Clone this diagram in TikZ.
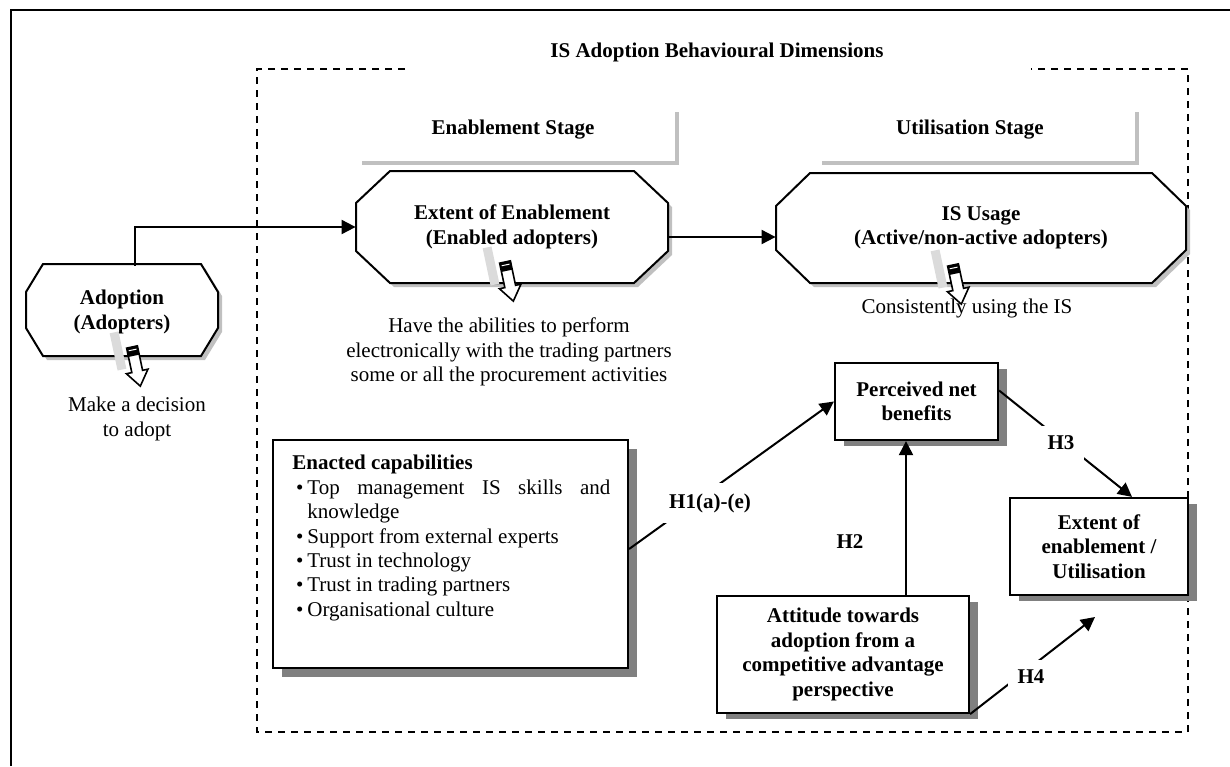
\documentclass[tikz,border=0pt]{standalone}
\usepackage{fontspec}
\setmainfont{Liberation Serif}
\usetikzlibrary{arrows.meta,shadows}
\definecolor{boxshade}{RGB}{128,128,128}
\definecolor{stageshade}{RGB}{192,192,192}
\newcommand{\figfont}{\fontsize{10.5}{12.2}\selectfont}
\tikzset{
  octnode/.style={inner sep=0pt,font=\figfont\bfseries,align=center},
  octline/.style={draw,line width=1pt,fill=white},
  octshade/.style={fill=stageshade},
  hbox/.style={draw,line width=1.1pt,fill=white,font=\figfont\bfseries,align=center,inner sep=0pt,
    drop shadow={shadow xshift=4.5pt,shadow yshift=#1,fill=boxshade,opacity=1}},
  hbox/.default=-3pt,
  note/.style={font=\figfont,align=center,inner sep=1pt},
  stagelbl/.style={font=\figfont\bfseries,inner sep=1pt},
  stagebar/.style={draw=stageshade,line width=2.2pt},
  link/.style={draw,line width=1pt,-{Triangle[length=7pt,width=7pt]}},
  hlabel/.style={font=\figfont\bfseries,fill=white,inner sep=5pt},
  frame/.style={line width=1pt},
  dimframe/.style={line width=0.7pt,dash pattern=on 3.5pt off 3pt},
}
% octagon: x1,y1,x2,y2,xcut,ycut
\newcommand{\octa}[6]{%
  \fill[octshade] (#1+#5+4,#2+4) -- (#3-#5+4,#2+4) -- (#3+4,#2+#6+4) -- (#3+4,#4-#6+4) -- (#3-#5+4,#4+4) -- (#1+#5+4,#4+4) -- (#1+4,#4-#6+4) -- (#1+4,#2+#6+4) -- cycle;
  \filldraw[octline] (#1+#5,#2) -- (#3-#5,#2) -- (#3,#2+#6) -- (#3,#4-#6) -- (#3-#5,#4) -- (#1+#5,#4) -- (#1,#4-#6) -- (#1,#2+#6) -- cycle;}
% small hollow pointer, top of its cap at (#1,#2)
\newcommand{\pointer}[2]{%
  \begin{scope}[shift={(#1,#2)},rotate=12]
    \fill[gray!28] (-19,-18) rectangle (-10,20);
    \filldraw[fill=white,line width=0.8pt] (-5.5,0) -- (-5.5,25) -- (-11,25) -- (0,40) -- (11,25) -- (5.5,25) -- (5.5,0) -- cycle;
    \fill (-5.5,0) rectangle (5.5,9);
    \draw[white,line width=0.5pt] (-4,3) -- (4,3);
  \end{scope}}
\newcommand{\capitem}[1]{\par\hangindent=7.5pt\hangafter=1\noindent\makebox[7.5pt][c]{\textbullet}#1}

\begin{document}
\begin{tikzpicture}[x=0.5pt,y=-0.5pt]
\useasboundingbox (0,0) rectangle (1230,766);
% frames
\draw[frame] (11,766) -- (11,10) -- (1230,10);
\node[stagelbl] (dimtitle) at (717,52) {IS Adoption Behavioural Dimensions};
\draw[dimframe] (405,69) -| (257,732) -| (1188,69) -- (1031,69);

% stages
\node[stagelbl] (enabstage) at (513,130) {Enablement Stage};
\draw[stagebar] (362,163) -| (677,112);
\node[stagelbl] (usestage) at (970,130) {Utilisation Stage};
\draw[stagebar] (822,163) -| (1137,112);

% adoption behaviours
\octa{26}{264}{218}{356}{17}{28}
\octa{356}{171}{668}{283}{34}{32}
\octa{776}{173}{1186}{283}{34}{33}
\node[octnode,minimum width=96pt,minimum height=46pt] (adopt) at (122,312) {Adoption\\(Adopters)};
\node[octnode,minimum width=156pt,minimum height=56pt] (enab) at (512,227) {Extent of Enablement\\(Enabled adopters)};
\node[octnode,minimum width=205pt,minimum height=55pt] (usage) at (981,228) {IS Usage\\(Active/non-active adopters)};
\draw[link] ([xshift=6.5pt]adopt.north) |- (enab.west);
\draw[link] ([yshift=-5pt]enab.east) -- ([yshift=-5pt]enab.east -| usage.west);

\pointer{132}{347}
\pointer{505}{262}
\pointer{953}{265}
\node[note] (adoptnote) at (137,419) {Make a decision\\to adopt};
\node[note] (enabnote) at (509,352) {Have the abilities to perform\\electronically with the trading partners\\some or all the procurement activities};
\node[note] (usenote) at (967,308) {Consistently using the IS};

% research model
\node[hbox=-4.5pt,minimum width=177.5pt,minimum height=114pt] (caps) at (450.5,554) {};
\node[anchor=north west,text width=159pt,align=justify,font=\figfont,inner sep=1.5pt] (caplist) at (289,452)
  {\hyphenpenalty=10000\textbf{Enacted capabilities}
   \capitem{Top management IS skills and knowledge}
   \capitem{Support from external experts}
   \capitem{Trust in technology}
   \capitem{Trust in trading partners}
   \capitem{Organisational culture}};
\node[hbox,minimum width=81.5pt,minimum height=38.5pt] (perc) at (916.5,401.5) {Perceived net\\benefits};
\node[hbox,minimum width=126pt,minimum height=58.5pt] (att) at (843,654.5) {Attitude towards\\adoption from a\\competitive advantage\\perspective};
\node[hbox,minimum width=89pt,minimum height=48.5pt] (ext) at (1099,546.5) {Extent of\\enablement /\\Utilisation};

\coordinate (h4end) at (1095,617);
\draw[link] ([yshift=2.5pt]caps.east) -- (perc.west);
\node[hlabel] (h1) at (710,503) {H1(a)-(e)};
\draw[link] ([xshift=31.5pt]att.north) -- ([xshift=31.5pt]att.north |- perc.south);
\node[hlabel,fill=none] (h2) at (850,542) {H2};
\draw[link] ([yshift=5.5pt]perc.east) -- ([xshift=16.5pt]ext.north);
\node[hlabel] (h3) at (1061,443) {H3};
\draw[link] (att.south east) -- (h4end);
\node[hlabel] (h4) at (1031,677) {H4};
\end{tikzpicture}
\end{document}
